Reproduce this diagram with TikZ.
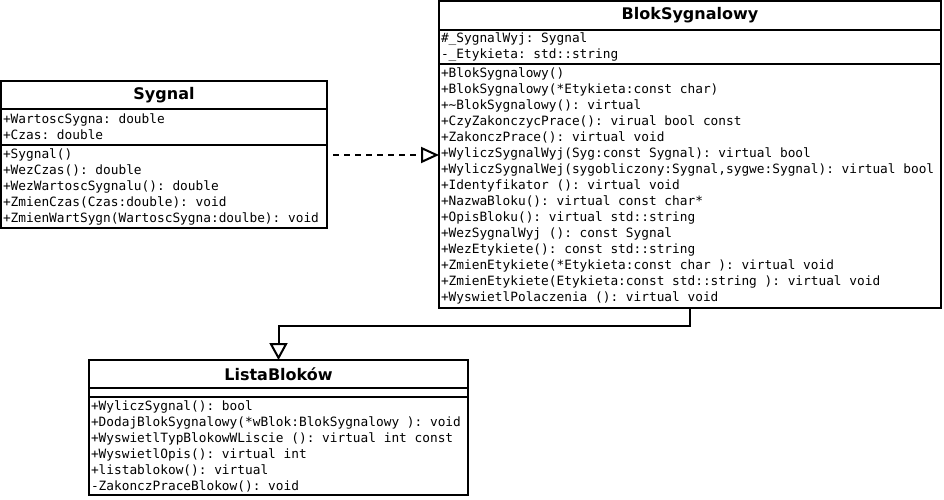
\documentclass[tikz,border=0pt]{standalone}
\usepackage{fontspec}
\setmonofont{DejaVu Sans Mono}[WordSpace={1,0,0}]
\newfontfamily\headfont{DejaVu Sans}
\usetikzlibrary{positioning,arrows.meta}

\begin{document}
\begin{tikzpicture}[line width=1.5pt,
    classname/.style={draw, outer sep=0pt, inner sep=0pt, font=\headfont\bfseries\fontsize{12}{14}\selectfont},
    members/.style={draw, outer sep=0pt, inner xsep=1.5pt, inner ysep=0pt, align=left, font=\ttfamily\fontsize{9.6}{12}\selectfont,
        execute at begin node={\spaceskip=0.602em\xspaceskip=0.602em\relax}},
    hollow/.style={-{Triangle[open, fill=white, #1]}}]
    \useasboundingbox (0,0) rectangle (708pt,-374.25pt);
    % Sygnal
    \node[classname, anchor=north west, minimum width=244.5pt, minimum height=21pt] (sygnal-title) at (0.75pt,-60.75pt) {Sygnal};
    \node[members, below=0pt of sygnal-title, text width=241.5pt, minimum height=27pt] (sygnal-attr)
        {+WartoscSygna: double\\+Czas: double};
    \node[members, below=0pt of sygnal-attr, text width=241.5pt, minimum height=62.25pt] (sygnal-ops)
        {+Sygnal()\\+WezCzas(): double\\+WezWartoscSygnalu(): double\\+ZmienCzas(Czas:double): void\\+ZmienWartSygn(WartoscSygna:doulbe): void};
    % BlokSygnalowy
    \node[classname, anchor=north west, minimum width=376.5pt, minimum height=21.75pt] (blok-title) at (329.25pt,-0.75pt) {BlokSygnalowy};
    \node[members, below=0pt of blok-title, text width=373.5pt, minimum height=25.5pt] (blok-attr)
        {\#\_SygnalWyj: Sygnal\\-\_Etykieta: std::string};
    \node[members, below=0pt of blok-attr, text width=373.5pt, minimum height=183pt] (blok-ops)
        {+BlokSygnalowy()\\
         +BlokSygnalowy(*Etykieta:const char)\\
         +\textasciitilde BlokSygnalowy(): virtual\\
         +CzyZakonczycPrace(): virual bool const\\
         +ZakonczPrace(): virtual void\\
         +WyliczSygnalWyj(Syg:const Sygnal): virtual bool\\
         +WyliczSygnalWej(sygobliczony:Sygnal,sygwe:Sygnal): virtual bool\\
         +Identyfikator (): virtual void\\
         +NazwaBloku(): virtual const char*\\
         +OpisBloku(): virtual std::string\\
         +WezSygnalWyj (): const Sygnal\\
         +WezEtykiete(): const std::string\\
         +ZmienEtykiete(*Etykieta:const char ): virtual void\\
         +ZmienEtykiete(Etykieta:const std::string ): virtual void\\
         +WyswietlPolaczenia (): virtual void};
    % ListaBlokow
    \node[classname, anchor=north west, minimum width=284.25pt, minimum height=21pt] (lista-title) at (66.75pt,-270pt) {ListaBloków};
    \node[members, below=0pt of lista-title, text width=281.25pt, minimum height=6.75pt] (lista-attr) {};
    \node[members, below=0pt of lista-attr, text width=281.25pt, minimum height=73.5pt] (lista-ops)
        {+WyliczSygnal(): bool\\
         +DodajBlokSygnalowy(*wBlok:BlokSygnalowy ): void\\
         +WyswietlTypBlokowWLiscie (): virtual int const\\
         +WyswietlOpis(): virtual int\\
         +listablokow(): virtual\\
         -ZakonczPraceBlokow(): void};
    % Relations
    \coordinate (dep) at ([xshift=4.5pt,yshift=-7.5pt]sygnal-ops.north east);
    \draw[hollow={length=13.5pt, width=12pt}, dash pattern=on 4.5pt off 3.75pt] (dep) -- (dep -| blok-ops.west);
    \draw[hollow={length=12.75pt, width=13.5pt}] (blok-ops.south) -- ++(0,-13.5pt) -| (lista-title.north);
\end{tikzpicture}
\end{document}
